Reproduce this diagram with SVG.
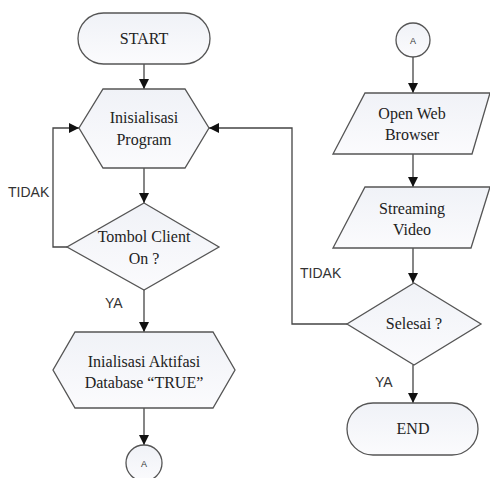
<svg xmlns="http://www.w3.org/2000/svg" width="490" height="478" viewBox="0 0 490 478">
<defs>
<linearGradient id="g" x1="0" y1="0" x2="0" y2="1">
<stop offset="0" stop-color="#f0f2f7"/>
<stop offset="1" stop-color="#fbfbfd"/>
</linearGradient>
<marker id="arr" viewBox="0 0 10 10" refX="10" refY="5" markerWidth="10" markerHeight="10" markerUnits="userSpaceOnUse" orient="auto">
<path d="M0,0 L10,5 L0,10 Z" fill="#111"/>
</marker>
</defs>
<style>
.shape{fill:url(#g);stroke:#555;stroke-width:1.3}
.t{font-family:"Liberation Serif","Times New Roman",serif;font-size:16px;fill:#222;text-anchor:middle}
.lbl{font-family:"Liberation Sans",Arial,sans-serif;font-size:14px;fill:#333}
.sm{font-family:"Liberation Sans",Arial,sans-serif;font-size:9px;fill:#333;text-anchor:middle}
.c{fill:none;stroke:#444;stroke-width:1.3}
</style>
<rect width="490" height="478" fill="#ffffff"/>
<g id="connectors">
<line class="c" x1="144" y1="64" x2="144" y2="89" marker-end="url(#arr)"/>
<line class="c" x1="144" y1="168" x2="144" y2="203" marker-end="url(#arr)"/>
<polyline class="c" points="67,247 53,247 53,128 79,128" marker-end="url(#arr)"/>
<line class="c" x1="144" y1="290" x2="144" y2="332" marker-end="url(#arr)"/>
<line class="c" x1="144" y1="408" x2="144" y2="445" marker-end="url(#arr)"/>
<line class="c" x1="413" y1="57" x2="413" y2="93" marker-end="url(#arr)"/>
<line class="c" x1="413" y1="154" x2="413" y2="187" marker-end="url(#arr)"/>
<line class="c" x1="413" y1="248" x2="413" y2="283" marker-end="url(#arr)"/>
<polyline class="c" points="347,324 292,324 292,128 209,128" marker-end="url(#arr)"/>
<line class="c" x1="413" y1="365" x2="413" y2="403" marker-end="url(#arr)"/>
</g>
<g id="labels">
<text class="lbl" x="8" y="197">TIDAK</text>
<text class="lbl" x="105" y="308">YA</text>
<text class="lbl" x="300" y="278">TIDAK</text>
<text class="lbl" x="375" y="387">YA</text>
</g>
<g id="start">
<rect class="shape" x="78" y="13" width="132" height="51" rx="25.5"/>
<text class="t" x="144" y="44">START</text>
</g>
<g id="init-program">
<polygon class="shape" points="103,89 185,89 209,128 185,168 103,168 79,128"/>
<text class="t" x="144" y="123">Inisialisasi</text>
<text class="t" x="144" y="145">Program</text>
</g>
<g id="tombol">
<polygon class="shape" points="144,203 219,247 144,290 67,247"/>
<text class="t" x="144" y="242">Tombol Client</text>
<text class="t" x="144" y="264">On ?</text>
</g>
<g id="init-db">
<polygon class="shape" points="75,332 213,332 235,370 213,408 75,408 53,370"/>
<text class="t" x="144" y="367">Inialisasi Aktifasi</text>
<text class="t" x="144" y="388">Database “TRUE”</text>
</g>
<g id="conn-a-bottom">
<circle class="shape" cx="144" cy="463" r="18"/>
<text class="sm" x="144" y="467">A</text>
</g>
<g id="conn-a-top">
<circle class="shape" cx="413" cy="40" r="17"/>
<text class="sm" x="413" y="44">A</text>
</g>
<g id="open-web">
<polygon class="shape" points="365,93 490,93 472,154 333,154"/>
<text class="t" x="412" y="119">Open Web</text>
<text class="t" x="412" y="140">Browser</text>
</g>
<g id="streaming">
<polygon class="shape" points="365,187 490,187 471,248 333,248"/>
<text class="t" x="412" y="214">Streaming</text>
<text class="t" x="412" y="235">Video</text>
</g>
<g id="selesai">
<polygon class="shape" points="414,283 481,324 414,365 347,324"/>
<text class="t" x="414" y="329">Selesai ?</text>
</g>
<g id="end">
<rect class="shape" x="347" y="403" width="131" height="52" rx="26"/>
<text class="t" x="413" y="434">END</text>
</g>
</svg>
